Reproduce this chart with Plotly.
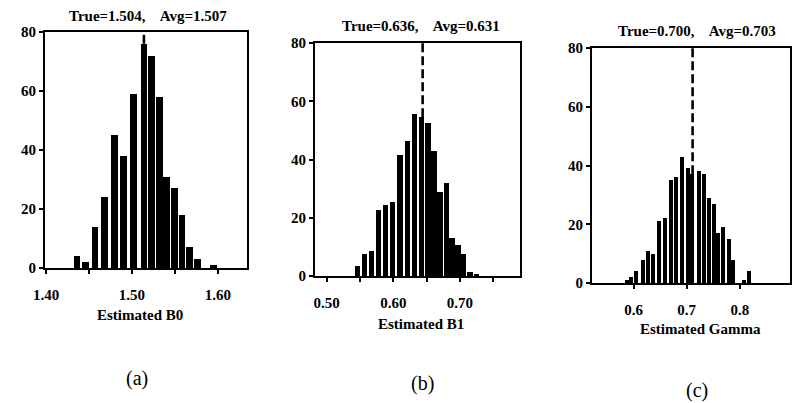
import plotly.graph_objects as go

# ---------------- data ----------------
a_x = [1.436, 1.446, 1.457, 1.468, 1.480, 1.490, 1.502, 1.5140, 1.5229, 1.5317, 1.5406,
       1.5494, 1.5583, 1.5671, 1.5760, 1.595]
a_y = [4, 2, 14, 24, 45, 38, 59, 76, 72, 58, 31, 27, 18, 7, 3, 1]

b_x = [0.547, 0.557, 0.567, 0.578, 0.588, 0.599, 0.610, 0.621, 0.632, 0.642, 0.652,
       0.661, 0.670, 0.680, 0.688, 0.697, 0.705, 0.715, 0.725]
b_y = [3.5, 7.5, 8.5, 22.5, 24.5, 25.5, 41.5, 46.5, 55.5, 54.5, 52.5,
       43, 29, 32, 13, 10.5, 7.5, 1.5, 0.5]

c_x = [0.587, 0.595, 0.605, 0.617, 0.627, 0.636, 0.648, 0.659, 0.670, 0.680, 0.692, 0.702,
       0.710, 0.723, 0.732, 0.741, 0.751, 0.759, 0.769, 0.779, 0.787, 0.797, 0.807, 0.817]
c_y = [1, 2, 4, 8, 11, 10, 21, 22, 35, 36, 43, 39,
       37, 38, 37, 29, 27, 17, 19, 15, 8, 0, 1, 4]

true_pos = [1.514, 0.644, 0.711]
titles = ["True=1.504,    Avg=1.507", "True=0.636,    Avg=0.631", "True=0.700,    Avg=0.703"]
xlabels = ["Estimated B0", "Estimated B1", "Estimated Gamma"]
panel_labels = ["(a)", "(b)", "(c)"]

a_ticks = [1.40, 1.45, 1.50, 1.55, 1.60]
a_ticktext = ["1.40", "", "1.50", "", "1.60"]
b_ticks = [0.50, 0.55, 0.60, 0.65, 0.70, 0.75]
b_ticktext = ["0.50", "", "0.60", "", "0.70", ""]
c_ticks = [0.6, 0.7, 0.8]
c_ticktext = ["0.6", "0.7", "0.8"]
y_ticks = [0, 20, 40, 60, 80]

# ---------------- layout geometry ----------------
W, H = 796, 403
FONT = "Liberation Serif"

def px(x):
    return x / W

def py(y):
    return 1 - y / H

panels = [
    dict(x=a_x, y=a_y, xd=(45, 247), yd=(32, 268), xr=(1.3988, 1.634), bw=0.0079,
         tv=a_ticks, tt=a_ticktext, title=(148, 16), xlab=(140, 315), plab=(137, 378)),
    dict(x=b_x, y=b_y, xd=(315, 520), yd=(43, 276), xr=(0.4826, 0.790), bw=0.0076,
         tv=b_ticks, tt=b_ticktext, title=(421, 26), xlab=(421, 324), plab=(422, 383)),
    dict(x=c_x, y=c_y, xd=(592, 790), yd=(48, 283), xr=(0.522, 0.894), bw=0.0075,
         tv=c_ticks, tt=c_ticktext, title=(697, 31), xlab=(700, 329), plab=(697, 390)),
]

fig = go.Figure()
annotations = []
shapes = []
layout_axes = {}

for i, p in enumerate(panels):
    n = "" if i == 0 else str(i + 1)
    fig.add_trace(go.Bar(
        x=p["x"], y=p["y"], width=p["bw"],
        marker=dict(color="black", line=dict(width=0)),
        xaxis="x" + n, yaxis="y" + n, showlegend=False,
    ))
    layout_axes["xaxis" + n] = dict(
        domain=[px(p["xd"][0]), px(p["xd"][1])], range=list(p["xr"]),
        anchor="y" + n, showgrid=False, zeroline=False, automargin=False,
        showline=True, linecolor="black", linewidth=1.8, mirror=True,
        ticks="outside", ticklen=4, tickwidth=1.5, tickcolor="black",
        tickvals=p["tv"], ticktext=p["tt"], ticklabelstandoff=8,
        tickfont=dict(family=FONT, size=15, color="black", weight="bold"),
    )
    layout_axes["yaxis" + n] = dict(
        domain=[py(p["yd"][1]), py(p["yd"][0])], range=[0, 80],
        anchor="x" + n, showgrid=False, zeroline=False, automargin=False,
        showline=True, linecolor="black", linewidth=1.8, mirror=True,
        ticks="outside", ticklen=4, tickwidth=1.5, tickcolor="black",
        tickvals=y_ticks,
        tickfont=dict(family=FONT, size=15, color="black", weight="bold"),
    )
    # dashed "true value" line, from the top of the bars under it to the top frame
    near = [yy for xx, yy in zip(p["x"], p["y"]) if abs(xx - true_pos[i]) < 0.006]
    shapes.append(dict(
        type="line", xref="x" + n, yref="y" + n,
        x0=true_pos[i], x1=true_pos[i], y0=max(near) if near else 0, y1=80,
        line=dict(color="black", width=2.6, dash="9px,4px"),
    ))
    annotations.append(dict(
        text=titles[i], xref="paper", yref="paper",
        x=px(p["title"][0]), y=py(p["title"][1]),
        xanchor="center", yanchor="middle", showarrow=False,
        font=dict(family=FONT, size=15, color="black", weight="bold"),
    ))
    annotations.append(dict(
        text=xlabels[i], xref="paper", yref="paper",
        x=px(p["xlab"][0]), y=py(p["xlab"][1]),
        xanchor="center", yanchor="middle", showarrow=False,
        font=dict(family=FONT, size=15, color="black", weight="bold"),
    ))
    annotations.append(dict(
        text=panel_labels[i], xref="paper", yref="paper",
        x=px(p["plab"][0]), y=py(p["plab"][1]),
        xanchor="center", yanchor="middle", showarrow=False,
        font=dict(family=FONT, size=20, color="black"),
    ))

fig.update_layout(
    width=W, height=H, autosize=False,
    margin=dict(l=0, r=0, t=0, b=0, pad=0),
    paper_bgcolor="white", plot_bgcolor="white",
    showlegend=False, bargap=0,
    annotations=annotations, shapes=shapes,
    **layout_axes,
)

# remove the browser's default 8px body margin so page pixels equal figure pixels
fig.write_html("out.html", config={"displayModeBar": False},
               post_script="document.body.style.margin='0px';")
